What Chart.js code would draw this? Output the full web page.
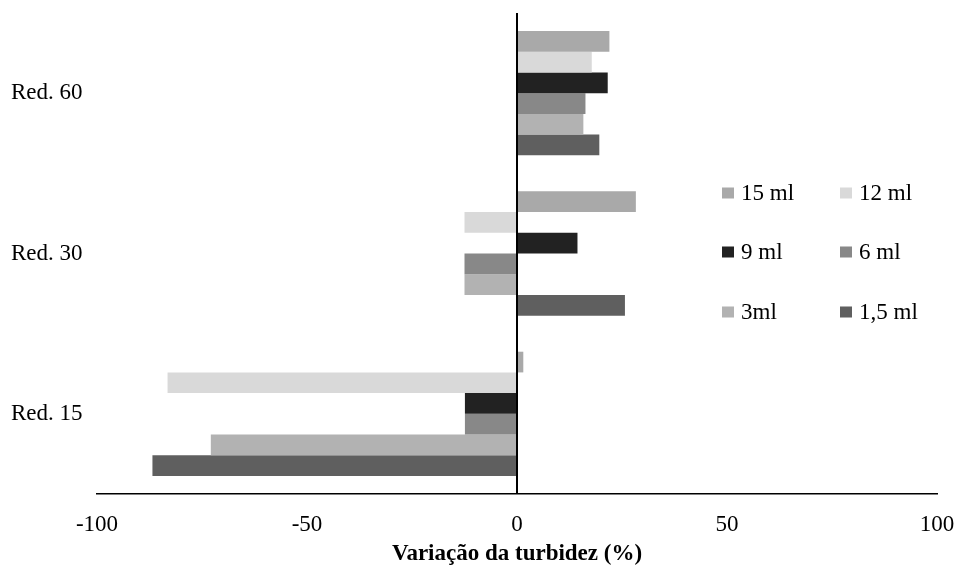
<!DOCTYPE html>
<html><head><meta charset="utf-8">
<script src="https://cdn.jsdelivr.net/npm/chart.js@4.4.1/dist/chart.umd.min.js"></script>
<style>html,body{margin:0;padding:0;background:#fff}#wrap{width:957px;height:566px}</style>
</head><body><div id="wrap"><canvas id="c" width="957" height="566"></canvas></div>
<script>
const categories = ['Red. 60', 'Red. 30', 'Red. 15'];
const seriesNames = ['15 ml', '12 ml', '9 ml', '6 ml', '3ml', '1,5 ml'];
const s15 = [22.0, 28.3, 1.5];
const s12 = [17.8, -12.5, -83.2];
const s9 = [21.6, 14.4, -12.4];
const s6 = [16.3, -12.5, -12.4];
const s3 = [15.8, -12.5, -72.9];
const s1_5 = [19.6, 25.7, -86.8];
const xTicks = [-100, -50, 0, 50, 100];
const colors = ['#a9a9a9', '#d9d9d9', '#222222', '#888888', '#b2b2b2', '#5f5f5f'];
const values = [s15, s12, s9, s6, s3, s1_5];

const FONT = 'Liberation Serif, Times New Roman, serif';
const FS = 23;

const legendPlugin = {
  id: 'customLegend',
  afterDraw(chart) {
    const ctx = chart.ctx;
    const colX = [722, 840];
    const rowY = [193, 252, 312];
    ctx.save();
    ctx.font = FS + 'px ' + FONT;
    ctx.textBaseline = 'middle';
    ctx.textAlign = 'left';
    chart.data.datasets.forEach((ds, i) => {
      const x = colX[i % 2], y = rowY[Math.floor(i / 2)];
      ctx.fillStyle = ds.backgroundColor;
      ctx.fillRect(x, y - 5.5, 12, 11);
      ctx.fillStyle = '#000';
      ctx.fillText(ds.label, x + 19, y + 1);
    });
    ctx.restore();
  }
};

new Chart(document.getElementById('c'), {
  type: 'bar',
  data: {
    labels: categories,
    datasets: seriesNames.map((n, i) => ({
      label: n, data: values[i], backgroundColor: colors[i],
      borderWidth: 0, categoryPercentage: 0.775, barPercentage: 1.0
    }))
  },
  options: {
    indexAxis: 'y',
    responsive: false,
    animation: false,
    devicePixelRatio: 1,
    layout: { padding: { left: 11, right: 20, top: 13, bottom: 0 } },
    plugins: { legend: { display: false }, tooltip: { enabled: false } },
    scales: {
      x: {
        min: -100, max: 100,
        afterBuildTicks(scale) { scale.ticks = xTicks.map(v => ({ value: v })); },
        afterFit(scale) { scale.paddingRight = 0; scale.paddingLeft = 0; },
        grid: {
          drawTicks: false,
          color: (c) => (c.tick && c.tick.value === 0 ? '#000' : 'rgba(0,0,0,0)'),
          lineWidth: 2
        },
        border: { display: true, color: '#000', width: 1.5 },
        ticks: { color: '#000', font: { family: FONT, size: FS, lineHeight: 1 }, padding: 19 },
        title: { display: true, text: 'Variação da turbidez (%)', color: '#000',
          font: { family: FONT, size: FS, weight: 'bold', lineHeight: 1 }, padding: { top: -12, bottom: 0 } }
      },
      y: {
        afterFit(scale) { scale.width = 86; scale.paddingTop = 0; scale.paddingBottom = 0; },
        grid: { display: false, drawTicks: false },
        border: { display: false },
        ticks: { color: '#000', font: { family: FONT, size: FS }, crossAlign: 'far', padding: 0 }
      }
    }
  },
  plugins: [legendPlugin]
});
</script>
</body></html>
